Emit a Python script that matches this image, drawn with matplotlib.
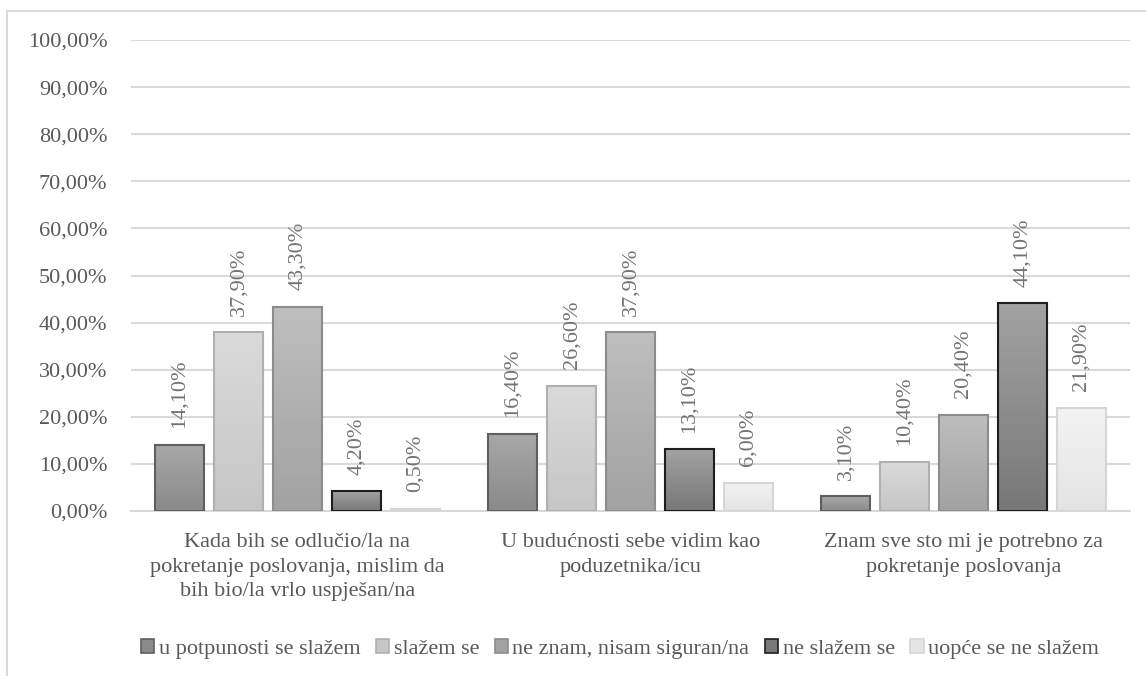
import numpy as np
import matplotlib
matplotlib.use('Agg')
import matplotlib.pyplot as plt
from matplotlib.patches import Patch, Rectangle
from matplotlib.colors import LinearSegmentedColormap
from matplotlib.ticker import FuncFormatter

# ── data ─────────────────────────────────────────────
categories = [
    'Kada bih se odlučio/la na\npokretanje poslovanja, mislim da\nbih bio/la vrlo uspješan/na',
    'U budućnosti sebe vidim kao\npoduzetnika/icu',
    'Znam sve sto mi je potrebno za\npokretanje poslovanja',
]
series_names = ['u potpunosti se slažem', 'slažem se', 'ne znam, nisam siguran/na',
                'ne slažem se', 'uopće se ne slažem']
values = [
    [14.1, 16.4, 3.1],
    [37.9, 26.6, 10.4],
    [43.3, 37.9, 20.4],
    [4.2, 13.1, 44.1],
    [0.5, 6.0, 21.9],
]

# gradient (top, bottom) and edge colours per series
grad = [('#a8a8a8', '#8a8a8a'), ('#dadada', '#c6c6c6'), ('#bebebe', '#a2a2a2'),
        ('#a2a2a2', '#787878'), ('#f3f3f3', '#e4e4e4')]
edges = ['#5f5f5f', '#b0b0b0', '#8c8c8c', '#1e1e1e', '#d6d6d6']

txt = '#595959'
plt.rcParams['font.family'] = ['Liberation Serif', 'DejaVu Serif']

fig = plt.figure(figsize=(11.46, 6.76), dpi=100)
ax = fig.add_axes([131/1146, 1 - 511/676, (1130 - 131)/1146, (511 - 40)/676])

x = np.arange(len(categories))
step, w = 0.177, 0.147
for i, vals in enumerate(values):
    pos = x + (i - 2) * step
    bars = ax.bar(pos, [v / 100 for v in vals], width=w, facecolor='none',
                  edgecolor=edges[i], linewidth=1.5, zorder=3)
    cmap = LinearSegmentedColormap.from_list('g%d' % i, [grad[i][1], grad[i][0]])
    for b, v in zip(bars, vals):
        x0, y0 = b.get_x(), b.get_y()
        im = ax.imshow(np.linspace(0, 1, 50).reshape(-1, 1), cmap=cmap, origin='lower',
                       extent=(x0, x0 + b.get_width(), y0, y0 + b.get_height()),
                       aspect='auto', zorder=2)
        im.set_clip_path(b)
        ax.annotate(f'{v:.2f}%'.replace('.', ','), (b.get_x() + b.get_width() / 2, b.get_height()),
                    xytext=(0, 12), textcoords='offset points', rotation=90,
                    ha='center', va='bottom', fontsize=16, color='#737373')

ax.set_xlim(-0.5, 2.5)
ax.set_ylim(0, 1)
ax.set_yticks(np.arange(0, 1.01, 0.1))
ax.yaxis.set_major_formatter(FuncFormatter(lambda v, p: f'{v*100:.2f}%'.replace('.', ',')))
ax.set_xticks(x)
ax.set_xticklabels(categories, fontsize=16, color=txt, linespacing=1.4)
ax.tick_params(axis='y', length=0, pad=17, labelsize=16, labelcolor=txt)
ax.tick_params(axis='x', length=0, pad=16)
ax.grid(axis='y', color='#d9d9d9', linewidth=1.5, zorder=0)
ax.set_axisbelow(True)
for s in ['left', 'right', 'top']:
    ax.spines[s].set_visible(False)
ax.spines['bottom'].set_color('#d9d9d9')
ax.spines['bottom'].set_linewidth(1.5)

handles = [Patch(facecolor=grad[i][1], edgecolor=edges[i], linewidth=1.2) for i in range(5)]
fig.legend(handles, series_names, loc='center', bbox_to_anchor=(620/1146, 1 - 649/676),
           ncol=5, frameon=False, fontsize=16, labelcolor=txt, handlelength=0.6,
           handleheight=0.6, handletextpad=0.2, columnspacing=0.7)

# chart area border
fig.add_artist(Rectangle((7/1146, -0.1), 1.1, 1.1 - 11/676, transform=fig.transFigure,
                         fill=False, edgecolor='#d9d9d9', linewidth=1.5))

fig.savefig('out.png', dpi=100, facecolor='white')
